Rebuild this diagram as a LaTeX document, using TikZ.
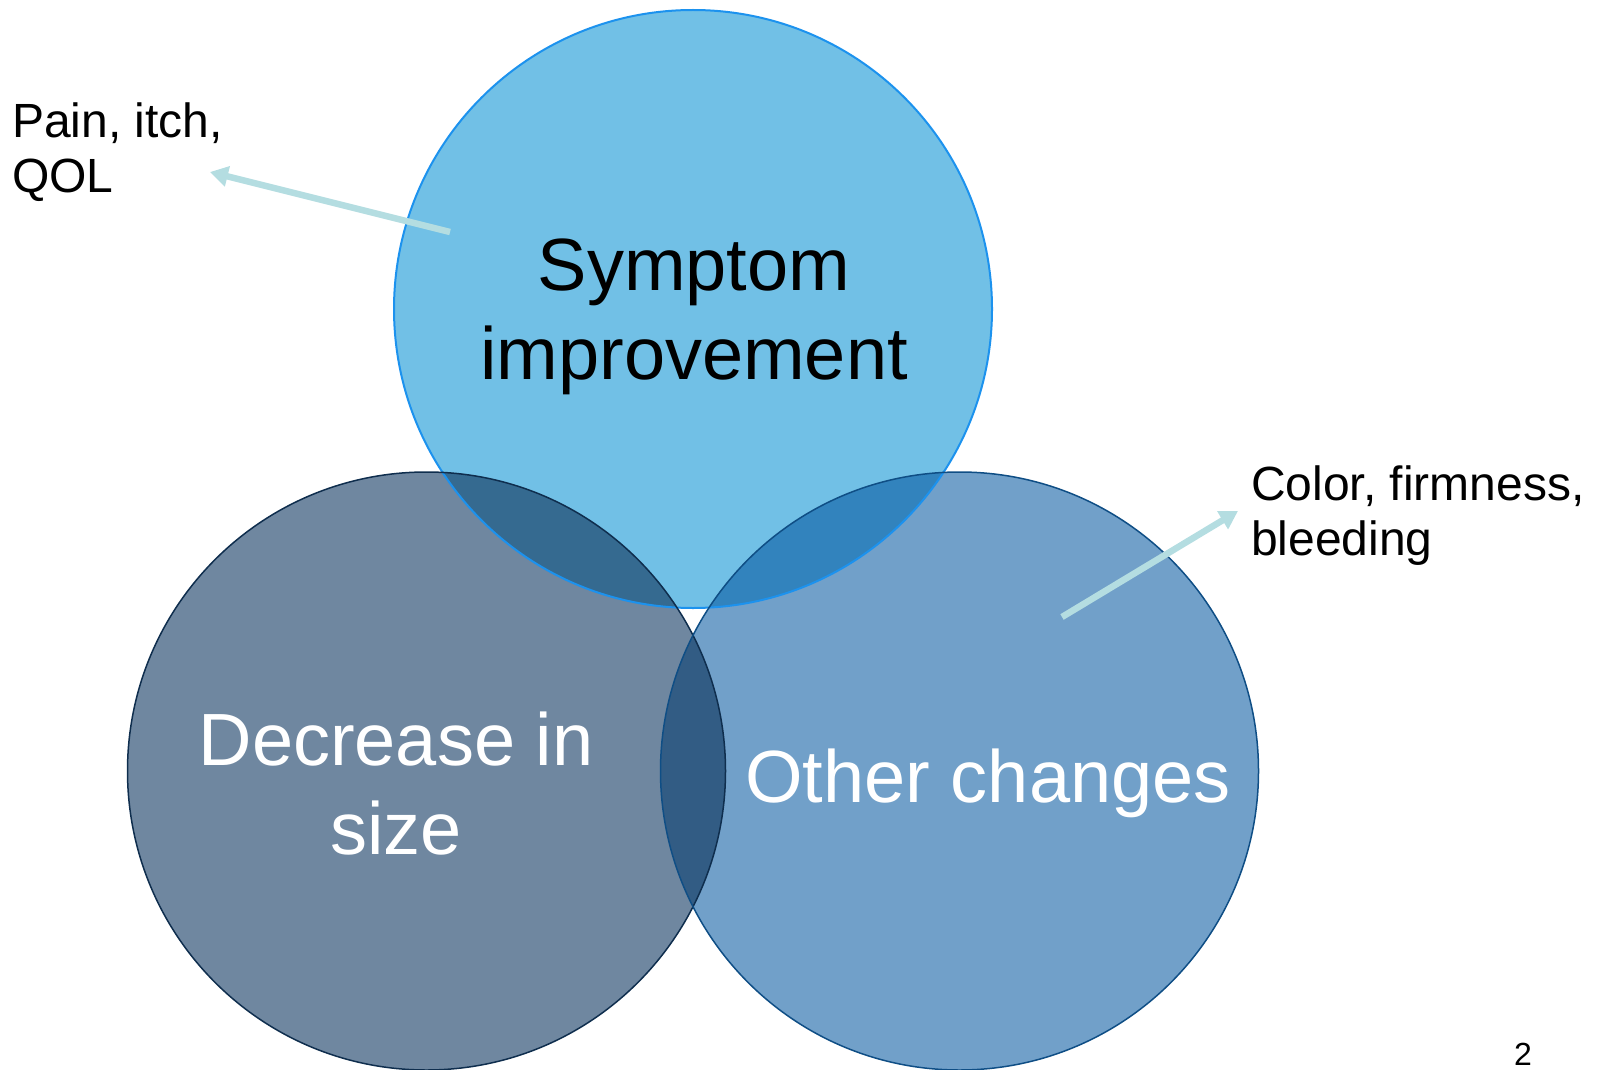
\documentclass[tikz,border=0pt]{standalone}
\usepackage{fontspec}
\setmainfont{Liberation Sans}
\usepackage{tikz}
\usetikzlibrary{arrows.meta}
\definecolor{symfill}{HTML}{71C0E6}
\definecolor{symline}{HTML}{1C92EE}
\definecolor{decfill}{HTML}{6F87A0}
\definecolor{decline}{HTML}{0F2E4E}
\definecolor{othfill}{HTML}{71A0C9}
\definecolor{othline}{HTML}{0F4E85}
\definecolor{symdec}{HTML}{356A90}
\definecolor{symoth}{HTML}{3283BD}
\definecolor{decoth}{HTML}{325C84}
\definecolor{pointer}{HTML}{B4DDE1}
\tikzstyle{ring}=[circle,minimum size=598pt,inner sep=0pt]
\tikzstyle{big}=[font=\fontsize{74}{89}\selectfont,align=center,inner sep=0pt]
\tikzstyle{note}=[font=\fontsize{48}{55}\selectfont,align=left,inner sep=0pt,anchor=west]

\begin{document}
\begin{tikzpicture}[x=1pt,y=-1pt,
          callout/.style={draw=pointer,line width=6.5pt,-{Triangle[length=18pt,width=20pt]}}]
          \useasboundingbox (0,0) rectangle (1598,1070);
          \node[ring,fill=symfill] (sym) at (693,309) {};
          \node[ring,fill=decfill] (dec) at (426.5,771) {};
          \node[ring,fill=othfill] (oth) at (959.5,771) {};
          % overlaps
          \begin{scope}
            \clip (sym.center) circle (299pt);
            \fill[symdec] (dec.center) circle (299pt);
            \fill[symoth] (oth.center) circle (299pt);
          \end{scope}
          \begin{scope}
            \clip (dec.center) circle (299pt);
            \fill[decoth] (oth.center) circle (299pt);
          \end{scope}
          % outlines
          \draw[symline,line width=2pt] (sym.center) circle (299pt);
          \draw[decline,line width=1.5pt] (dec.center) circle (299pt);
          \draw[othline,line width=1.5pt] (oth.center) circle (299pt);
          \node[big] (symtext) at (694,317) {Symptom\\improvement};
          \node[big,text=white] (dectext) at (396,783.5) {Decrease in\\size};
          \node[big,text=white,anchor=base] (othtext) at (988,802) {Other changes};
          \node[note] (paintext) at (12,152) {Pain, itch,\\QOL};
          \node[note] (colortext) at (1251,516) {Color, firmness,\\bleeding};
          \node[font=\fontsize{32}{38}\selectfont,inner sep=0pt,anchor=base] (page) at (1523,1065) {2};
          \coordinate (painfrom) at (450,232);
          \coordinate (painto) at (210,172);
          \coordinate (colorfrom) at (1062,617);
          \coordinate (colorto) at (1238,511);
          \draw[callout] (painfrom) -- (painto);
          \draw[callout] (colorfrom) -- (colorto);
        \end{tikzpicture}
\end{document}
